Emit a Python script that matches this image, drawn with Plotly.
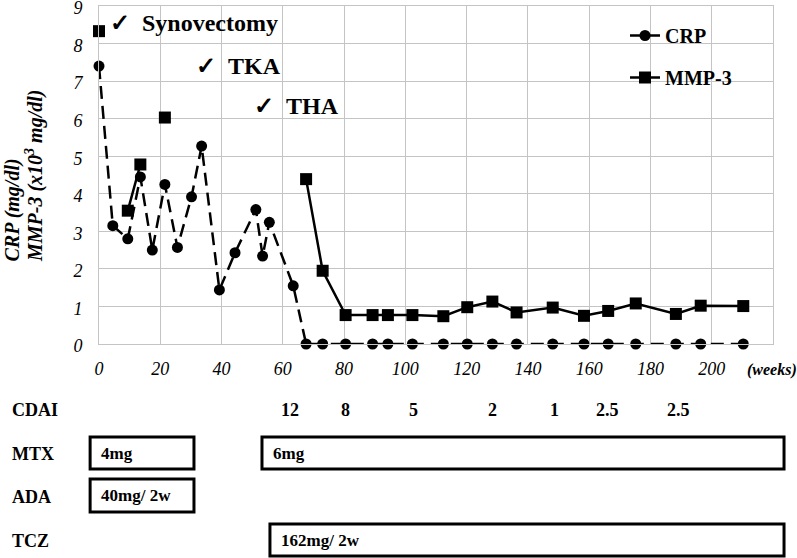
import plotly.graph_objects as go

# ---------------- data ----------------
weeks = [0, 4.5, 9.4, 13.5, 17.4, 21.5, 25.6, 30.2, 33.5, 39.3, 44.4, 51.2, 53.4,
         55.6, 63.4, 67.6, 73, 80.5, 89.3, 94.3, 102.3, 112.4, 120.2, 128.4,
         136.3, 148.1, 158.3, 166.2, 175.2, 188.3, 196.4, 210.3]
crp = [7.4, 3.15, 2.8, 4.45, 2.5, 4.25, 2.57, 3.92, 5.27, 1.44, 2.43, 3.58, 2.34,
       3.24, 1.55, 0, 0, 0, 0, 0, 0, 0, 0, 0, 0, 0, 0, 0, 0, 0, 0, 0]
mmp3 = [8.33, None, 3.55, 4.78, None, 6.03, None, None, None, None, None, None,
        None, None, None, 4.39, 1.95, 0.77, 0.77, 0.77, 0.77, 0.74, 0.98, 1.13,
        0.84, 0.97, 0.75, 0.88, 1.08, 0.80, 1.02, 1.01]

x_range = [0, 220]
x_ticks = [0, 20, 40, 60, 80, 100, 120, 140, 160, 180, 200]
x_unit = "(weeks)"
y_ticks = [0, 1, 2, 3, 4, 5, 6, 7, 8, 9]

events = ["Synovectomy", "TKA", "THA"]
event_week = [3, 31, 50]
event_value = [8.55, 7.4, 6.33]

cdai_weeks = [62.3, 80.3, 102.5, 128.3, 148.8, 166, 189]
cdai_values = ["12", "8", "5", "2", "1", "2.5", "2.5"]

drug_rows = ["CDAI", "MTX", "ADA", "TCZ"]
drug_names = ["MTX", "MTX", "ADA", "TCZ"]
drug_labels = ["4mg", "6mg", "40mg/ 2w", "162mg/ 2w"]
drug_start = [-2.9, 53.2, -2.9, 55.8]
drug_end = [31.0, 223.6, 31.0, 223.6]

# ---------------- figure ----------------
SERIF = "Liberation Serif, Times New Roman, serif"
fig = go.Figure()

fig.add_trace(go.Scatter(
    x=weeks, y=crp, name="<b>CRP</b>", mode="lines+markers",
    line=dict(color="black", width=2.5, dash="13px,7px"),
    marker=dict(symbol="circle", size=11, color="black"),
    cliponaxis=False, legendgroup="a"))
fig.add_trace(go.Scatter(
    x=weeks, y=mmp3, name="<b>MMP-3</b>", mode="lines+markers",
    line=dict(color="black", width=2.5),
    marker=dict(symbol="square", size=12, color="black"),
    connectgaps=False, cliponaxis=False, legendgroup="b"))

L, R, T, B = 99, 24, 6, 214
W, H = 797, 558
PH = H - T - B
PW = W - L - R


def py(p):
    return (H - B - p) / PH


def px(p):
    return (p - L) / PW


def week_to_paper(w):
    # linear x-axis scale: week -> fraction of plot width
    return (w - x_range[0]) / (x_range[1] - x_range[0])


annotations = []
# y-axis title (two rotated lines, bottom-aligned)
for txt, cx in [("<b><i>CRP (mg/dl)</i></b>", 12),
                ("<b><i>MMP-3 (x10<sup>3</sup> mg/dl)</i></b>", 34)]:
    annotations.append(dict(
        xref="paper", yref="paper", x=px(cx), y=py(264),
        xanchor="center", yanchor="bottom",
        text=txt, textangle=-90, showarrow=False,
        font=dict(family=SERIF, size=20, color="black")))

# x unit label
annotations.append(dict(
    xref="paper", yref="paper", x=px(745), y=py(370),
    xanchor="left", yanchor="middle", text="<b><i>" + x_unit + "</i></b>",
    showarrow=False, font=dict(family=SERIF, size=16, color="black")))

# event labels
for name, wk, val in zip(events, event_week, event_value):
    annotations.append(dict(
        xref="x", yref="y", x=wk, y=val, xanchor="left", yanchor="middle",
        text="<b>✓</b>  <b>" + name + "</b>", showarrow=False,
        font=dict(family=SERIF, size=24, color="black")))

# row labels
row_y = [410, 454, 497, 541]
for lab, yy in zip(drug_rows, row_y):
    annotations.append(dict(
        xref="paper", yref="paper", x=px(10), y=py(yy),
        xanchor="left", yanchor="middle", text="<b>" + lab + "</b>",
        showarrow=False, font=dict(family=SERIF, size=18, color="black")))

# CDAI values
for wk, v in zip(cdai_weeks, cdai_values):
    annotations.append(dict(
        xref="x", yref="paper", x=wk, y=py(410), xanchor="center",
        yanchor="middle", text="<b>" + v + "</b>", showarrow=False,
        font=dict(family=SERIF, size=18, color="black")))

# drug boxes
box_rows = {"MTX": (437, 469), "ADA": (479, 512), "TCZ": (524, 556)}
shapes = []
for nm, lab, s, e in zip(drug_names, drug_labels, drug_start, drug_end):
    top, bot = box_rows[nm]
    shapes.append(dict(type="rect", xref="paper", yref="paper",
                       x0=week_to_paper(s), x1=week_to_paper(e),
                       y0=py(bot), y1=py(top),
                       line=dict(color="black", width=3), layer="above"))
    annotations.append(dict(
        xref="x", yref="paper", x=s + 3, y=py((top + bot) / 2),
        xanchor="left", yanchor="middle", text="<b>" + lab + "</b>",
        showarrow=False, font=dict(family=SERIF, size=17, color="black")))

fig.update_layout(
    template="none",
    width=W, height=H,
    margin=dict(l=L, r=R, t=T, b=B, autoexpand=False),
    paper_bgcolor="white", plot_bgcolor="white",
    font=dict(family=SERIF, color="black"),
    showlegend=True,
    legend=dict(x=px(625), y=py(16), xanchor="left",
                yanchor="top", bgcolor="rgba(0,0,0,0)",
                font=dict(family=SERIF, size=20, color="black"),
                itemwidth=30, tracegroupgap=13, traceorder="grouped"),
    xaxis=dict(range=x_range, tickvals=x_ticks,
               automargin=False, ticklabeloverflow="allow",
               showgrid=True, gridcolor="#c4c4c4", gridwidth=1,
               showline=True, linecolor="#c4c4c4", mirror=True,
               zeroline=False, ticks="", ticklabelstandoff=8,
               tickfont=dict(family=SERIF, size=18, style="italic", color="black")),
    yaxis=dict(range=[0, 9], tickvals=y_ticks,
               automargin=False, ticklabeloverflow="allow",
               ticklabelshift=2,
               showgrid=True, gridcolor="#c4c4c4", gridwidth=1,
               showline=True, linecolor="#c4c4c4", mirror=True,
               zeroline=False, ticks="", ticklabelstandoff=12,
               tickfont=dict(family=SERIF, size=18, style="italic", color="black")),
    annotations=annotations,
    shapes=shapes,
)

fig.write_html("out.html", config={"displayModeBar": False},
               post_script="document.body.style.margin='0px';document.body.style.overflow='hidden';")
